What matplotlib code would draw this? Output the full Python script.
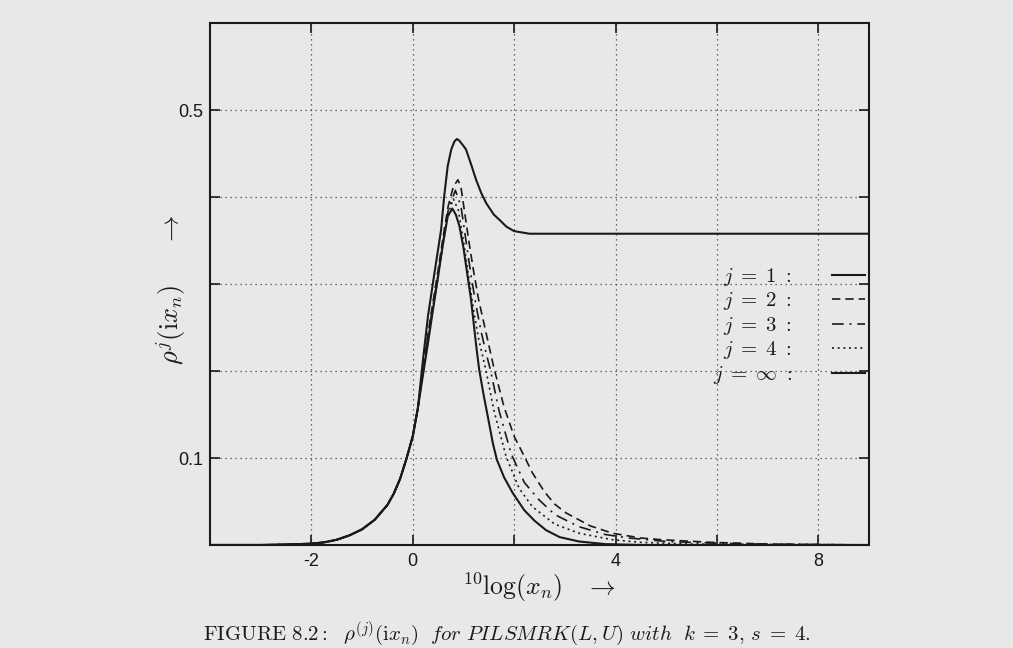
import numpy as np
import matplotlib
matplotlib.use('Agg')
import matplotlib.pyplot as plt

plt.rcParams['mathtext.fontset'] = 'cm'
plt.rcParams['axes.unicode_minus'] = False

# shared rising branch (all curves coincide here)
rise_x = [-4.0, -3.0, -2.5, -2.0, -1.75, -1.5, -1.25, -1.0, -0.75, -0.5, -0.375, -0.25, -0.125,
          0.0, 0.05, 0.1]
rise_y = [0.0, 0.0, 0.0005, 0.0015, 0.003, 0.006, 0.011, 0.018, 0.029, 0.046, 0.059, 0.076, 0.099,
          0.125, 0.141, 0.157]

# j = 1 (goes to a plateau)
j1_x = [0.2, 0.3, 0.4, 0.5, 0.56, 0.62, 0.69, 0.76, 0.82, 0.87, 0.92, 1.0, 1.05, 1.15, 1.25,
        1.35, 1.45, 1.6, 1.71, 1.85, 2.0, 2.3, 3.0, 5.0, 7.0, 9.0]
j1_y = [0.212, 0.263, 0.302, 0.340, 0.363, 0.401, 0.436, 0.455, 0.464, 0.467, 0.465, 0.459, 0.455,
        0.438, 0.420, 0.405, 0.393, 0.380, 0.374, 0.366, 0.361, 0.358, 0.358, 0.358, 0.358, 0.358]

# j = 2
j2_x = [0.2, 0.3, 0.4, 0.5, 0.6, 0.7, 0.8, 0.89, 0.95, 1.0, 1.1, 1.2, 1.3, 1.4, 1.5, 1.6, 1.8,
        2.0, 2.2, 2.36, 2.6, 2.8, 3.02, 3.5, 3.94, 4.5, 4.92, 5.9, 7.0, 9.0]
j2_y = [0.200, 0.243, 0.280, 0.316, 0.355, 0.390, 0.412, 0.420, 0.412, 0.392, 0.352, 0.315, 0.282,
        0.256, 0.230, 0.204, 0.159, 0.125, 0.102, 0.083, 0.061, 0.047, 0.037, 0.022, 0.0135, 0.008,
        0.006, 0.003, 0.001, 0.0]

# j = 3
j3_x = [0.2, 0.3, 0.4, 0.5, 0.6, 0.7, 0.84, 0.95, 1.05, 1.15, 1.25, 1.35, 1.45, 1.53, 1.7, 1.94,
        2.2, 2.49, 2.8, 3.28, 3.8, 4.27, 5.0, 6.0, 7.0, 9.0]
j3_y = [0.198, 0.240, 0.276, 0.311, 0.350, 0.385, 0.408, 0.390, 0.350, 0.310, 0.275, 0.245, 0.220,
        0.202, 0.155, 0.105, 0.072, 0.052, 0.035, 0.021, 0.012, 0.008, 0.004, 0.002, 0.001, 0.0]

# j = 4
j4_x = [0.2, 0.3, 0.4, 0.5, 0.6, 0.7, 0.8, 0.9, 1.0, 1.1, 1.2, 1.3, 1.44, 1.6, 1.84, 2.1, 2.36,
        2.8, 3.28, 3.94, 4.5, 5.5, 9.0]
j4_y = [0.197, 0.237, 0.272, 0.308, 0.347, 0.382, 0.398, 0.385, 0.350, 0.310, 0.270, 0.237, 0.202,
        0.155, 0.102, 0.065, 0.044, 0.024, 0.0135, 0.006, 0.003, 0.001, 0.0]

# j = infinity
jinf_x = [0.2, 0.3, 0.39, 0.49, 0.59, 0.69, 0.78, 0.85, 0.92, 1.0, 1.05, 1.15, 1.25, 1.31, 1.4,
          1.48, 1.58, 1.66, 1.8, 1.97, 2.2, 2.4, 2.63, 2.9, 3.28, 3.8, 4.5, 9.0]
jinf_y = [0.195, 0.232, 0.267, 0.305, 0.344, 0.378, 0.387, 0.380, 0.367, 0.342, 0.322, 0.282, 0.230,
          0.202, 0.172, 0.148, 0.117, 0.098, 0.078, 0.060, 0.040, 0.028, 0.017, 0.009, 0.004, 0.001,
          0.0, 0.0]

labels = [r'$j\;=\;1\ :$', r'$j\;=\;2\ :$', r'$j\;=\;3\ :$', r'$j\;=\;4\ :$', r'$j\;=\;\infty\ :$']

xticks = [-2, 0, 2, 4, 6, 8]
xticklabels = ['-2', '0', '', '4', '', '8']
yticks = [0.1, 0.2, 0.3, 0.4, 0.5]
yticklabels = ['0.1', '', '', '', '0.5']

bg = '#e8e8e8'
ink = '#1a1a1a'

fig = plt.figure(figsize=(10.13, 6.48), dpi=100, facecolor=bg)
ax = fig.add_axes([0.2073, 0.159, 0.6505, 0.805], facecolor=bg)

styles = ['-', (0, (5, 3)), (0, (7, 3.5, 1.2, 3.5)), (0, (1.2, 2.2)), '-']
series = [(j1_x, j1_y), (j2_x, j2_y), (j3_x, j3_y), (j4_x, j4_y), (jinf_x, jinf_y)]
handles = []
for (sx, sy), ls, lab in zip(series, styles, labels):
    x = np.concatenate([rise_x, sx])
    y = np.concatenate([rise_y, sy])
    lw = 1.5 if ls == '-' else 1.2
    ln, = ax.plot(x, y, color=ink, lw=lw, linestyle=ls, label=lab)
    handles.append(ln)

ax.set_xlim(-4, 9)
ax.set_ylim(0, 0.6)
ax.set_xticks(xticks)
ax.set_xticklabels(xticklabels)
ax.set_yticks(yticks)
ax.set_yticklabels(yticklabels)
ax.tick_params(direction='in', length=7, width=1.2, top=True, right=True, colors=ink,
               labelsize=13)
ax.tick_params(axis='x', pad=6)
ax.tick_params(axis='y', pad=5)
for lbl in ax.get_xticklabels() + ax.get_yticklabels():
    lbl.set_family('Liberation Sans')
for sp in ax.spines.values():
    sp.set_linewidth(1.5)
    sp.set_color(ink)
ax.grid(True, linestyle=(0, (1, 3)), color='#444444', lw=0.9)

ax.set_xlabel(r'$^{10}\log(x_n)\quad\rightarrow$', fontsize=18.5, color=ink)
ax.xaxis.set_label_coords(0.5, -0.05)
ax.set_ylabel(r'$\rho^j(\mathrm{i}x_n)\quad\ \ \rightarrow$', fontsize=19, color=ink)
ax.yaxis.set_label_coords(-0.034, 0.49)

leg = ax.legend(handles=handles, labels=labels, loc='upper right', bbox_to_anchor=(0.994, 0.535),
                frameon=False, markerfirst=False, fontsize=15, handlelength=1.6,
                handletextpad=1.9, labelspacing=0.12, borderaxespad=0, borderpad=0)
for t in leg.get_texts():
    t.set_color(ink)

fig.text(0.5, 0.0216,
         r'$\mathrm{FIGURE\ 8.2{:}}\ \ \rho^{(j)}(\mathrm{i}x_n)\ \ \mathit{for\ PILSMRK(L,U)\ with}\ \ k\;=\;3,\, s\;=\;4.$',
         ha='center', va='center', fontsize=15, color=ink)

fig.savefig('out.png', dpi=100, facecolor=fig.get_facecolor())
